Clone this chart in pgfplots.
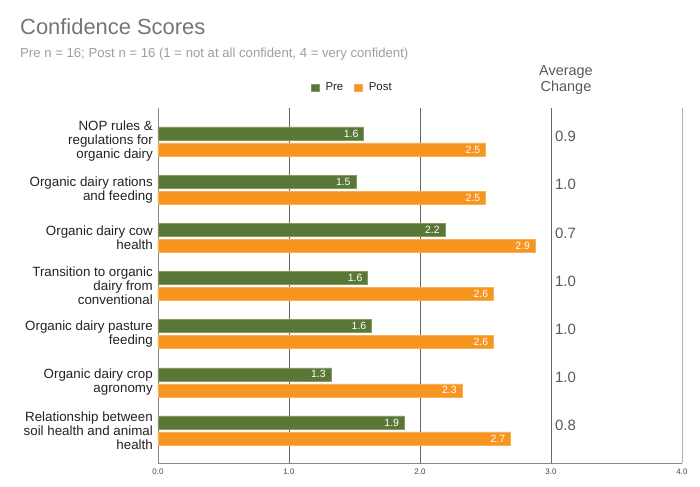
\documentclass[border=0pt]{standalone}
\usepackage{fontspec}
\setmainfont{Liberation Sans}
\usepackage{pgfplots}
\pgfplotsset{compat=1.18}
\definecolor{pre}{HTML}{5B7736}
\definecolor{post}{HTML}{F6951F}
\definecolor{titlec}{HTML}{757575}
\definecolor{subc}{HTML}{9E9E9E}
\definecolor{labelc}{HTML}{222222}
\definecolor{changec}{HTML}{595959}
\definecolor{gridc}{HTML}{666666}
\definecolor{lightgrid}{HTML}{B0B0B0}
\definecolor{axisc}{HTML}{888888}
\definecolor{tickc}{HTML}{444444}
\begin{document}
\begin{tikzpicture}
\useasboundingbox (-158bp,-24bp) rectangle (542bp,463bp);
\begin{axis}[
  scale only axis, width=524bp, height=355bp,
  xmin=0, xmax=4, ymin=-0.675, ymax=6.695,
  axis x line*=bottom, axis y line*=left,
  axis line style={-, draw=axisc, line width=0.8bp},
  xtick={0,1,2,3}, xticklabels={0.0,1.0,2.0,3.0},
  extra x ticks={4}, extra x tick labels={4.0},
  extra x tick style={grid=major, major grid style={draw=lightgrid, line width=0.8bp}},
  xmajorgrids, major grid style={draw=gridc, line width=0.7bp},
  major tick length=0pt,
  ytick={0,...,6},
  yticklabels={{Relationship between\\soil health and animal\\health},
               {Organic dairy crop\\agronomy},
               {Organic dairy pasture\\feeding},
               {Transition to organic\\dairy from\\conventional},
               {Organic dairy cow\\health},
               {Organic dairy rations\\and feeding},
               {NOP rules \&\\regulations for\\organic dairy}},
  yticklabel style={align=right, font=\fontsize{13.4}{14}\selectfont, text=labelc, inner sep=0pt, xshift=-5bp},
  xticklabel style={font=\fontsize{8}{9}\selectfont, text=tickc, inner sep=0pt, yshift=-5.5bp},
  legend style={at={(0.371,1.057)}, anchor=center, draw=none, fill=none,
     font=\fontsize{11.5}{13}\selectfont, text=labelc, legend columns=2,
     /tikz/every even column/.append style={column sep=9bp}},
  legend image code/.code={\fill[#1] (0bp,-3.8bp) rectangle (7.6bp,3.8bp); \path (0bp,0bp) (12bp,0bp);},
  /pgf/number format/fixed, /pgf/number format/precision=1,
  /pgf/number format/fixed zerofill, /pgf/number format/assume math mode=true,
]
\addplot[xbar, bar width=13bp, bar shift=8bp, fill=pre, draw=pre!75!white, line width=0.5bp,
  nodes near coords,
  nodes near coords style={anchor=east, text=white, inner sep=0pt, xshift=-5bp, yshift=8bp, font=\fontsize{10.5}{12}\selectfont}]
  coordinates {(1.57,6) (1.51,5) (2.19,4) (1.60,3) (1.63,2) (1.32,1) (1.88,0)};
\addlegendentry{Pre}
\addplot[xbar, bar width=13bp, bar shift=-8bp, fill=post, draw=post!75!white, line width=0.5bp,
  nodes near coords,
  nodes near coords style={anchor=east, text=white, inner sep=0pt, xshift=-5bp, yshift=-8bp, font=\fontsize{10.5}{12}\selectfont}]
  coordinates {(2.50,6) (2.50,5) (2.88,4) (2.56,3) (2.56,2) (2.32,1) (2.69,0)};
\addlegendentry{Post}
\addplot[forget plot, draw=none, mark=none, nodes near coords, point meta=explicit symbolic,
  nodes near coords style={anchor=west, inner sep=0pt, text=changec, font=\fontsize{15}{17}\selectfont}]
  table[meta=c] {
x y c
3.03 6.1 0.9
3.03 5.1 1.0
3.03 4.1 0.7
3.03 3.1 1.0
3.03 2.1 1.0
3.03 1.1 1.0
3.03 0.1 0.8
};
\end{axis}
\node[anchor=base west, inner sep=0pt, text=titlec, font=\fontsize{22}{26}\selectfont] at (-138bp,428bp) {Confidence Scores};
\node[anchor=base west, inner sep=0pt, text=subc, font=\fontsize{13.2}{15}\selectfont] at (-138bp,405.5bp) {Pre n = 16; Post n = 16 (1 = not at all confident, 4 = very confident)};
\node[anchor=base, inner sep=0pt, align=center, text=changec, font=\fontsize{14.5}{16.5}\selectfont] at (408bp,371bp) {Average\\Change};
\end{tikzpicture}
\end{document}
